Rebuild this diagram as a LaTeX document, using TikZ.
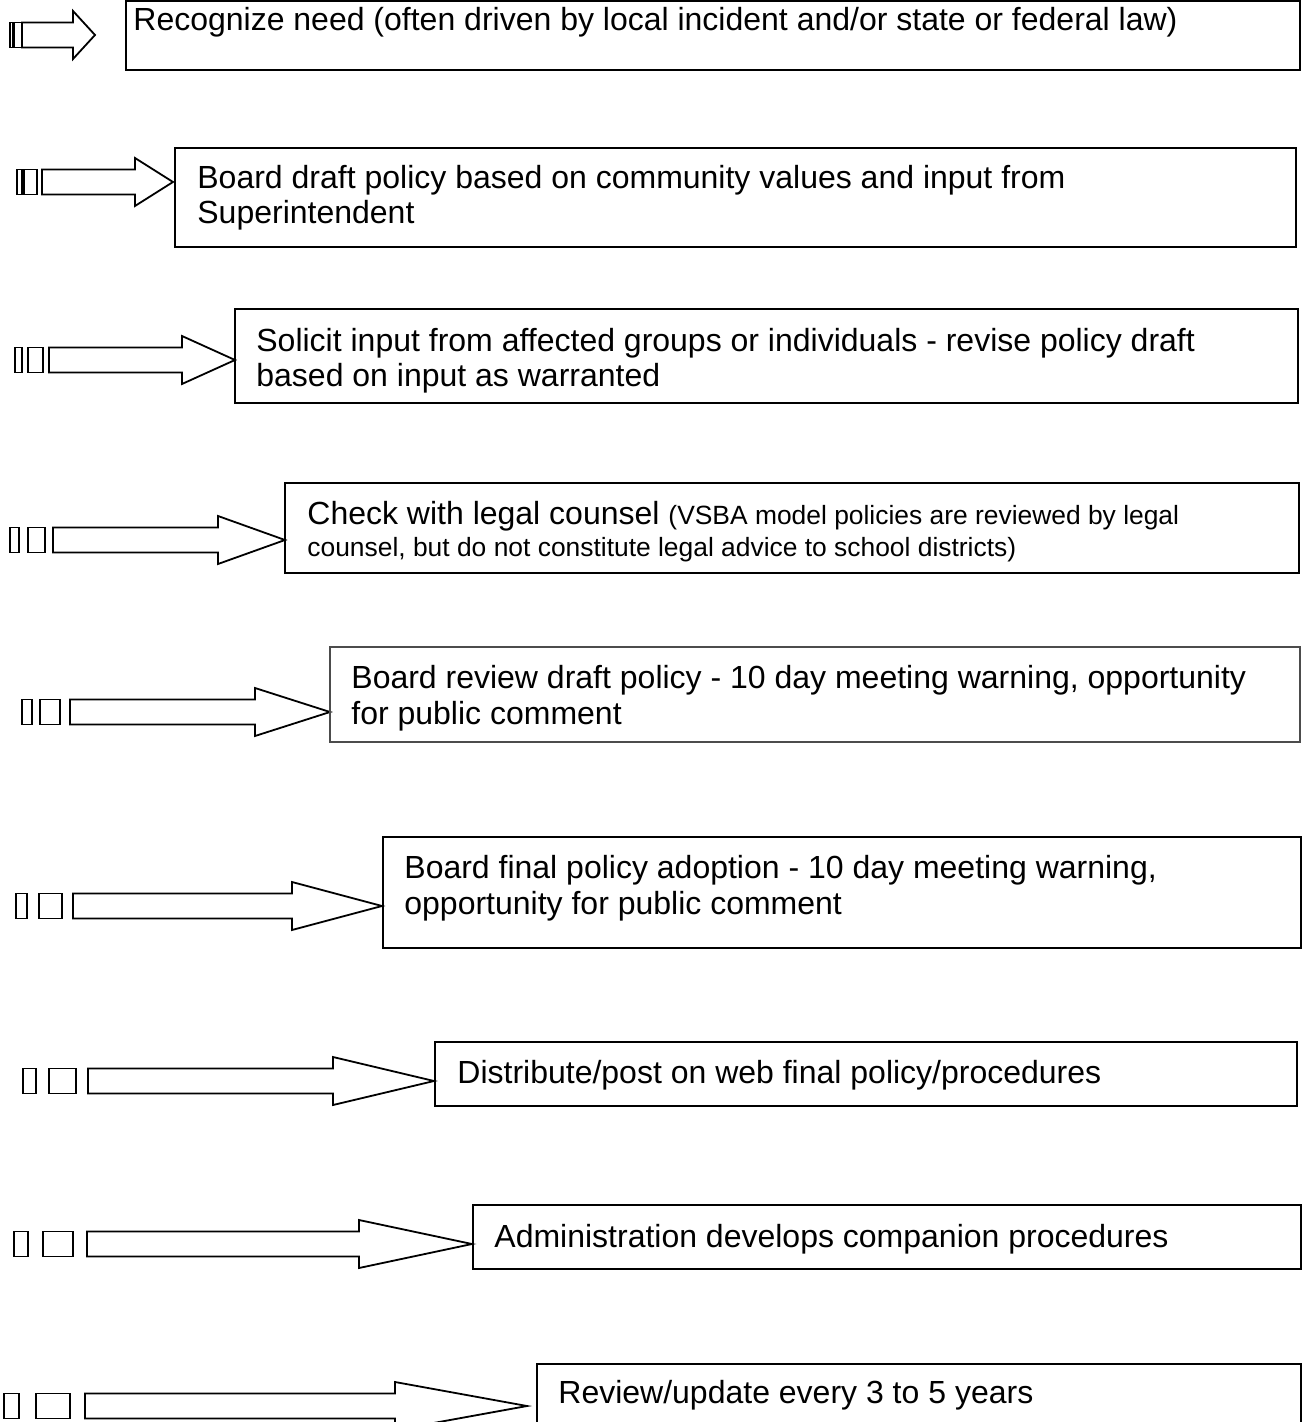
\documentclass[tikz,border=0pt]{standalone}
\usepackage{fontspec}
\setmainfont{Liberation Sans}
\begin{document}
\begin{tikzpicture}[x=0.5pt,y=-0.5pt,line join=miter,
  box/.style={draw=black,line width=1.1pt},
  thinbox/.style={draw=black!70,line width=0.6pt},
  arr/.style={draw=black,line width=0.9pt,fill=white},
  txt/.style={anchor=base west,inner sep=0pt,font=\fontsize{16}{18}\selectfont},
  smalltxt/.style={anchor=base west,inner sep=0pt,font=\fontsize{13.2}{15}\selectfont}]
\useasboundingbox (0,0) rectangle (1306,1422);
\clip (0,0) rectangle (1306,1422);
% striped arrow: s1a s1b s2a s2b bodystart headstart tip tipy
\def\sarrow#1#2#3#4#5#6#7#8{%
  \draw[arr] (#1,{#8-12.5}) rectangle (#2,{#8+12.5});
  \draw[arr] (#3,{#8-12.5}) rectangle (#4,{#8+12.5});
  \draw[arr] (#5,{#8-12.5}) -- (#6,{#8-12.5}) -- (#6,{#8-24}) -- (#7,#8)
     -- (#6,{#8+24}) -- (#6,{#8+12.5}) -- (#5,{#8+12.5}) -- cycle;}
% arrows
\sarrow{10}{13}{14}{22}{22}{73}{95}{35}
\sarrow{17}{22}{24}{37}{42}{135}{173}{182}
\sarrow{15}{22}{28}{43}{49}{182}{235}{360}
\sarrow{10}{19}{28}{45}{53}{218}{285}{540}
\sarrow{22}{32}{40}{60}{70}{255}{330}{712}
\sarrow{16}{27}{39}{62}{73}{292}{382}{906}
\sarrow{23}{36}{49}{76}{88}{333}{434}{1081}
\sarrow{14}{28}{43}{73}{87}{359}{472}{1244}
\sarrow{4}{19}{36}{70}{85}{395}{527}{1406}
% boxes
\draw[box] (126,1) coordinate (b1) rectangle (1300,70);
\draw[box] (175,148) coordinate (b2) rectangle (1296,247);
\draw[box] (235,309) coordinate (b3) rectangle (1298,403);
\draw[box] (285,483) coordinate (b4) rectangle (1299,573);
\draw[thinbox] (330,647) coordinate (b5) rectangle (1300,742);
\draw[box] (383,837) coordinate (b6) rectangle (1301,948);
\draw[box] (435,1042) coordinate (b7) rectangle (1297,1106);
\draw[box] (473,1205) coordinate (b8) rectangle (1301,1269);
\draw[box] (537,1364) coordinate (b9) rectangle (1301,1460);
% texts
\node[txt] (t1) at (133,31) {Recognize need (often driven by local incident and/or state or federal law)};
\node[txt] (t2a) at (197,189) {Board draft policy based on community values and input from};
\node[txt] (t2b) at (197,224) {Superintendent};
\node[txt] (t3a) at (256,352) {Solicit input from affected groups or individuals - revise policy draft};
\node[txt] (t3b) at (256,387) {based on input as warranted};
\node[txt] (t4a) at (307,524) {Check with legal counsel {\fontsize{13.2}{15}\selectfont (VSBA model policies are reviewed by legal}};
\node[smalltxt] (t4b) at (307,556) {counsel, but do not constitute legal advice to school districts)};
\node[txt] (t5a) at (351,688) {Board review draft policy - 10 day meeting warning, opportunity};
\node[txt] (t5b) at (351,724) {for public comment};
\node[txt] (t6a) at (404,878) {Board final policy adoption - 10 day meeting warning,};
\node[txt] (t6b) at (404,914) {opportunity for public comment};
\node[txt] (t7) at (457,1083) {Distribute/post on web final policy/procedures};
\node[txt] (t8) at (494,1247) {Administration develops companion procedures};
\node[txt] (t9) at (558,1403) {Review/update every 3 to 5 years};
\end{tikzpicture}
\end{document}
